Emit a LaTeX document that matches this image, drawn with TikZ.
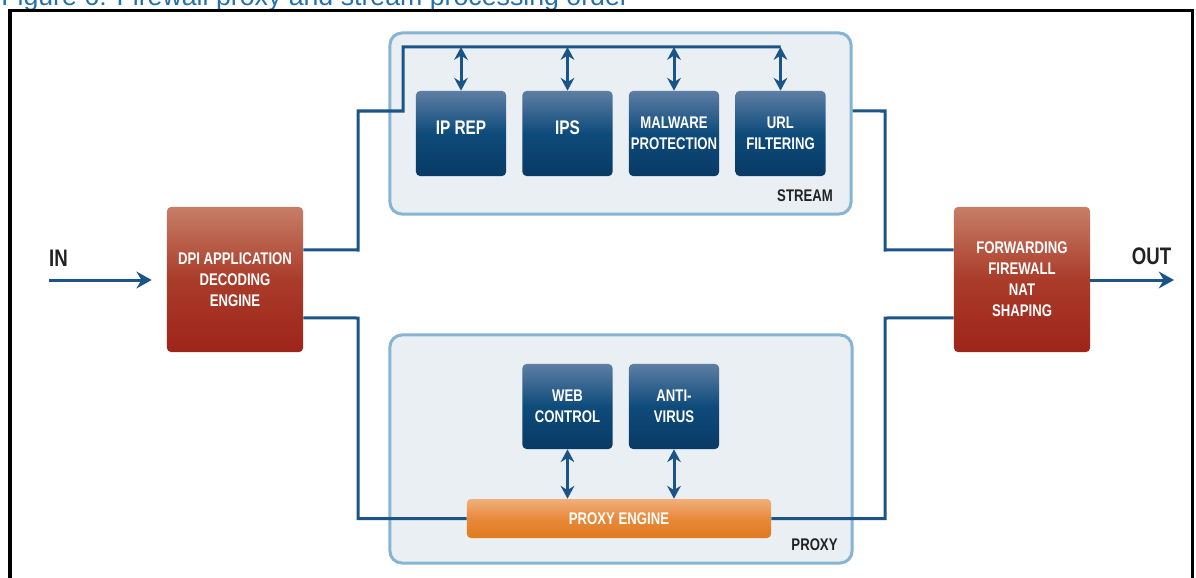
\documentclass[tikz,border=0pt]{standalone}
\usepackage{fontspec}
\newfontfamily\condfont[FakeStretch=0.78]{Liberation Sans}
\newfontfamily\capfont{Liberation Sans}
\usetikzlibrary{arrows.meta}
\definecolor{linkblue}{HTML}{1B5486}
\definecolor{panelfill}{HTML}{E9EFF3}
\definecolor{panelline}{HTML}{86B4D2}
\definecolor{bluetop}{HTML}{5E7EA4}
\definecolor{bluemid}{HTML}{0E4B7B}
\definecolor{bluebot}{HTML}{083A64}
\definecolor{redtop}{HTML}{C77E67}
\definecolor{redmid}{HTML}{AA3C2A}
\definecolor{redbot}{HTML}{9E2419}
\definecolor{orangetop}{HTML}{F0B07C}
\definecolor{orangemid}{HTML}{E8893A}
\definecolor{orangebot}{HTML}{E07A1E}
\definecolor{captionblue}{HTML}{2371AB}
\definecolor{labelgray}{HTML}{222222}

\begin{document}
\begin{tikzpicture}[x=0.025cm, y=-0.025cm,
    >={Stealth[length=0.32cm,width=0.34cm]},
    panel/.style={draw=panelline, line width=0.075cm, fill=panelfill, rounded corners=0.3cm},
    module/.style={rounded corners=0.1cm, top color=bluetop, bottom color=bluebot, middle color=bluemid,
        text=white, align=center, inner sep=0pt, minimum width=2.25cm, minimum height=2.125cm,
        font=\condfont\bfseries\fontsize{12}{15}\selectfont},
    bigmodule/.style={module, text depth=0.275cm, font=\condfont\bfseries\fontsize{14}{17}\selectfont},
    engine/.style={rounded corners=0.1cm, top color=redtop, bottom color=redbot, middle color=redmid,
        text=white, align=center, inner sep=0pt, minimum width=3.4cm, minimum height=3.625cm,
        font=\condfont\bfseries\fontsize{12}{15}\selectfont},
    proxybar/.style={rounded corners=0.1cm, top color=orangetop, bottom color=orangebot, middle color=orangemid,
        text=white, inner sep=0pt, minimum width=7.6cm, minimum height=0.975cm,
        font=\condfont\bfseries\fontsize{12}{15}\selectfont},
    tag/.style={text=labelgray, inner sep=0pt, font=\condfont\bfseries\fontsize{12}{15}\selectfont},
    io/.style={text=labelgray, inner sep=0pt, font=\condfont\bfseries\fontsize{17}{20}\selectfont},
    link/.style={draw=linkblue, line width=0.075cm}]
    \useasboundingbox (0,0) rectangle (1196,578);

    % 标题与边框
    \node[anchor=base west, inner sep=0pt, text=captionblue, font=\capfont\fontsize{19}{23}\selectfont]
        (caption) at (1,6) {Figure 6: Firewall proxy and stream processing order};
    \draw[line width=0.075cm] (10,600) -- (10,11) -- (1192,11) -- (1192,600);

    % STREAM 区域
    \node[panel, minimum width=11.525cm, minimum height=4.525cm] (stream) at (620.5,123.5) {};
    \node[tag] (streamtag) at (805,196) {STREAM};
    \node[bigmodule] (iprep) at (461,133.5) {IP REP};
    \node[bigmodule] (ips) at (567.5,133.5) {IPS};
    \node[module] (malware) at (674,133.5) {MALWARE\\PROTECTION};
    \node[module] (url) at (780.5,133.5) {URL\\FILTERING};

    % PROXY 区域
    \node[panel, minimum width=11.55cm, minimum height=5.7cm] (proxy) at (621,449) {};
    \node[tag] (proxytag) at (814.5,545) {PROXY};
    \node[module] (web) at (567.5,406.5) {WEB\\CONTROL};
    \node[module] (av) at (674,406.5) {ANTI-\\VIRUS};
    \node[proxybar] (proxyeng) at (619,518.5) {PROXY ENGINE};

    % 两端引擎
    \node[engine] (dpi) at (235,279.5) {DPI APPLICATION\\DECODING\\ENGINE};
    \node[engine] (fwd) at (1022,279.5) {FORWARDING\\FIREWALL\\NAT\\SHAPING};

    % 输入与输出
    \node[io] (inlabel) at (58.5,258.5) {IN};
    \node[io] (outlabel) at (1151.5,256) {OUT};
    \coordinate (in) at (49,280);
    \coordinate (out) at (1174,280);
    \draw[link, -{Stealth[length=0.38cm,width=0.42cm]}, shorten >=0.375cm] (in) -- (in -| dpi.west);
    \draw[link, -{Stealth[length=0.38cm,width=0.42cm]}] (fwd.east |- out) -- (out);

    % STREAM 路径
    \coordinate (bus) at (403,47);
    \draw[link] ([yshift=0.74cm]dpi.east) -- (358,250) -- (358,111) -- (403,111) -- (bus) -- (bus -| url.north);
    \draw[link] ([yshift=0.3125cm]stream.east) -- (885,111) -- (885,250) -- ([yshift=0.74cm]fwd.west);
    \foreach \m in {iprep,ips,malware,url}
        \draw[link, <->] (\m.north |- bus) -- (\m.north);

    % PROXY 路径
    \draw[link] ([yshift=-0.96cm]dpi.east) -- (358,318) -- (358,518.5) -- (proxyeng.west);
    \draw[link] (proxyeng.east) -- (885,518.5) -- (885,318) -- ([yshift=-0.96cm]fwd.west);
    \foreach \m in {web,av}
        \draw[link, <->] (\m.south) -- (\m.south |- proxyeng.north);
\end{tikzpicture}
\end{document}
